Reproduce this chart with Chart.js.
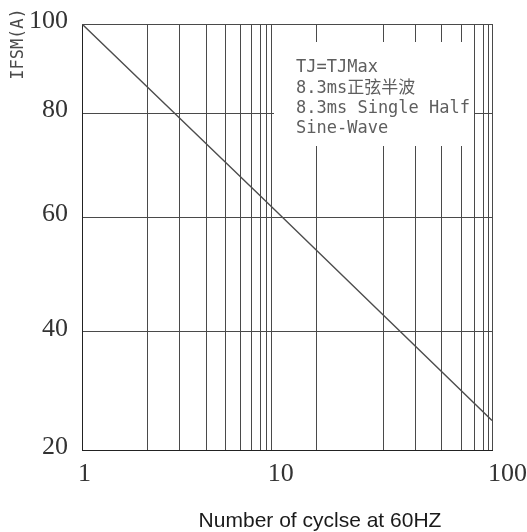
<!DOCTYPE html>
<html>
<head>
<meta charset="utf-8">
<script src="https://cdn.jsdelivr.net/npm/chart.js@4.4.0/dist/chart.umd.min.js"></script>
<style>
  html, body { margin: 0; padding: 0; background: #fff; }
  #wrap { width: 527px; height: 532px; position: relative; }
</style>
</head>
<body>
<div id="wrap"><canvas id="chart-canvas"></canvas></div>
<script>
(function () {
  "use strict";

  // ---- data ----
  var cycles = [1, 10, 100];
  var ifsm = [100, 62, 25];

  // tick / gridline values
  var xGridValues = [1, 2, 3, 4, 5, 6, 7, 8, 9, 10, 20, 30, 40, 50, 60, 70, 80, 90, 100];
  var xLabelValues = [1, 10, 100];
  var yGridValues = [20, 40, 60, 80, 100];

  var noteLines = ["TJ=TJMax", "8.3ms正弦半波", "8.3ms Single Half", "Sine-Wave"];
  var yTitle = "IFSM(A)";
  var xTitle = "Number of cyclse at 60HZ";

  var INK = "#333";
  var GRID = "#4a4a4a";

  // The printed grid is hand drawn: neither decade is truly logarithmic and the
  // current axis is not linear. Axis geometry = fraction of axis length per gridline.
  var AXIS_GEOMETRY = {
    x: { values: xGridValues,
         stops: [0, .160, .238, .303, .350, .386, .414, .435, .451, .463,
                 .573, .736, .813, .877, .925, .957, .979, .991, 1] },
    y: { values: yGridValues, stops: [0, .277, .546, .790, 1] }
  };

  function toDecimal(v, g) {
    var vals = g.values, st = g.stops, n = vals.length;
    if (v <= vals[0]) return st[0] + (v - vals[0]) / (vals[1] - vals[0]) * (st[1] - st[0]);
    for (var i = 1; i < n; i++) {
      if (v <= vals[i]) return st[i - 1] + (v - vals[i - 1]) / (vals[i] - vals[i - 1]) * (st[i] - st[i - 1]);
    }
    return st[n - 1] + (v - vals[n - 1]) / (vals[n - 1] - vals[n - 2]) * (st[n - 1] - st[n - 2]);
  }

  function fromDecimal(d, g) {
    var vals = g.values, st = g.stops, n = vals.length;
    for (var i = 1; i < n; i++) {
      if (d <= st[i] || i === n - 1) return vals[i - 1] + (d - st[i - 1]) / (st[i] - st[i - 1]) * (vals[i] - vals[i - 1]);
    }
    return vals[n - 1];
  }

  class GridScale extends Chart.LinearScale {
    buildTicks() {
      this.start = this.min;
      this.end = this.max;
      return AXIS_GEOMETRY[this.id].values.map(function (v) { return { value: v }; });
    }
    getPixelForValue(value) {
      if (value === null || value === undefined) return NaN;
      return this.getPixelForDecimal(toDecimal(value, AXIS_GEOMETRY[this.id]));
    }
    getValueForPixel(pixel) {
      return fromDecimal(this.getDecimalForPixel(pixel), AXIS_GEOMETRY[this.id]);
    }
  }
  GridScale.id = "grid";
  GridScale.defaults = {};
  Chart.register(GridScale);

  var notes = {
    id: "notes",
    afterDatasetsDraw: function (chart) {
      var c = chart.ctx, a = chart.chartArea;
      c.save();
      // blank panel behind the test conditions
      c.fillStyle = "#fff";
      c.fillRect(a.left + 192, a.top + 18, 200, 104);
      c.fillStyle = "#5e5e5e";
      c.font = '17px "DejaVu Sans Mono", "Noto Sans CJK SC", monospace';
      c.textAlign = "left";
      c.textBaseline = "alphabetic";
      var base = [47.7, 69.3, 89.3, 109.3];
      noteLines.forEach(function (t, i) { c.fillText(t, a.left + 214, a.top + base[i]); });

      // y axis title, rotated, sitting above the axis top
      c.save();
      c.translate(23, 44);
      c.rotate(-Math.PI / 2);
      c.textAlign = "center";
      c.fillStyle = "#4a4a4a";
      c.fillText(yTitle, 0, 0);
      c.restore();

      // x axis title
      c.fillStyle = "#1a1a1a";
      c.font = '21px "Liberation Sans", Arial, sans-serif';
      c.textAlign = "center";
      c.fillText(xTitle, 320, 526.5);
      c.restore();
    }
  };

  var tickFont = { family: '"Liberation Serif", "Times New Roman", serif', size: 26 };

  new Chart(document.getElementById("chart-canvas").getContext("2d"), {
    type: "line",
    data: {
      datasets: [{
        data: cycles.map(function (x, i) { return { x: x, y: ifsm[i] }; }),
        borderColor: "#4d4d4d",
        borderWidth: 1.4,
        pointRadius: 0,
        tension: 0,
        fill: false
      }]
    },
    options: {
      responsive: true,
      maintainAspectRatio: false,
      animation: false,
      events: [],
      layout: { padding: { top: 24, right: 35, bottom: 0, left: 0 } },
      plugins: { legend: { display: false }, tooltip: { enabled: false } },
      scales: {
        x: {
          type: "grid",
          min: 1, max: 100,
          grid: { color: GRID, lineWidth: 1, drawTicks: false },
          border: { color: "#222", width: 1 },
          ticks: {
            autoSkip: false, minRotation: 0, maxRotation: 0,
            align: "start", labelOffset: -4, padding: 9,
            color: INK, font: tickFont,
            callback: function (v) { return xLabelValues.indexOf(v) >= 0 ? String(v) : ""; }
          },
          afterFit: function (s) { s.height = 82; s.paddingLeft = 0; s.paddingRight = 0; }
        },
        y: {
          type: "grid",
          min: 20, max: 100,
          grid: { color: GRID, lineWidth: 1, drawTicks: false },
          border: { color: "#222", width: 1 },
          ticks: {
            autoSkip: false, padding: 14, labelOffset: -3,
            color: INK, font: tickFont,
            callback: function (v) { return String(v); }
          },
          afterFit: function (s) { s.width = 82; s.paddingTop = 0; s.paddingBottom = 0; }
        }
      }
    },
    plugins: [notes]
  });
})();
</script>
</body>
</html>
